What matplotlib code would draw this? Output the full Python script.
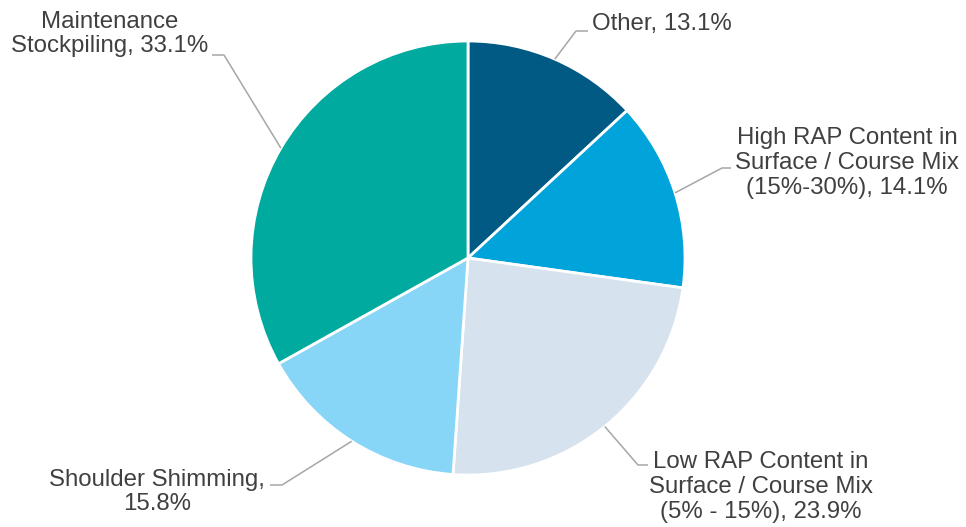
import numpy as np
import matplotlib
matplotlib.use("Agg")
import matplotlib.pyplot as plt

# data (clockwise from 12 o'clock)
labels = [
    "Other, 13.1%",
    "High RAP Content in\nSurface / Course Mix\n(15%-30%), 14.1%",
    "Low RAP Content in\nSurface / Course Mix\n(5% - 15%), 23.9%",
    "Shoulder Shimming,\n15.8%",
    "Maintenance\nStockpiling, 33.1%",
]
shares = [13.1, 14.1, 23.9, 15.8, 33.1]
colors = ["#015A84", "#00A3DA", "#D6E2ED", "#87D5F7", "#00AA9E"]

# label layout in pixel space: elbow point, end of horizontal tick, text anchor, alignment
elbows = [(576, 31), (722, 168), (638, 465), (282, 485), (224, 55)]
ends = [(588, 31), (731, 168), (648, 465), (270, 485), (212, 55)]
text_pos = [(592, 24), (847, 163), (761, 487), (157, 492), (110, 34)]
text_ha = ["left", "center", "center", "center", "center"]

plt.rcParams["font.family"] = ["Liberation Sans", "DejaVu Sans"]

fig = plt.figure(figsize=(9.66, 5.27), dpi=100)
ax = fig.add_axes([0, 0, 1, 1])

cx, cy, r = 468, 258, 217
# y axis is flipped below, so counterclock=True draws clockwise on screen
wedges, _ = ax.pie(shares, colors=colors, startangle=-90, counterclock=True,
                   center=(cx, cy), radius=r,
                   wedgeprops=dict(edgecolor="white", linewidth=2))
ax.set_xlim(0, 966)
ax.set_ylim(527, 0)
ax.set_aspect("equal")
ax.axis("off")

for w, lab, el, en, tp, ha in zip(wedges, labels, elbows, ends, text_pos, text_ha):
    mid = np.deg2rad((w.theta1 + w.theta2) / 2)
    ax0 = (cx + r * np.cos(mid), cy + r * np.sin(mid))
    ax.plot([ax0[0], el[0], en[0]], [ax0[1], el[1], en[1]],
            color="#A6A6A6", lw=1.1, solid_capstyle="butt")
    ax.text(tp[0], tp[1], lab, ha=ha, va="center", multialignment="center",
            fontsize=17.3, color="#404040", linespacing=1.15)

fig.savefig("out.png", dpi=100)
